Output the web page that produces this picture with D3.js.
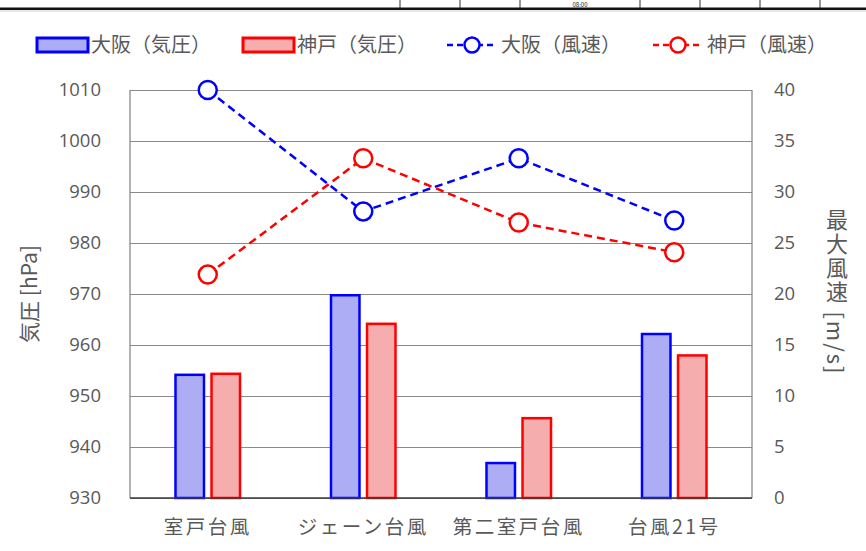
<!DOCTYPE html>
<html>
<head>
<meta charset="utf-8">
<script src="https://cdn.jsdelivr.net/npm/d3@7"></script>
<style>
  html, body { margin: 0; padding: 0; background: #fff; }
  svg { display: block; font-family: "Noto Sans CJK JP", "Noto Sans", sans-serif; }
</style>
</head>
<body>
<svg id="chart" width="866" height="551"></svg>
<script>
// Typhoon comparison: minimum pressure (bars) and maximum wind speed (lines)
const categories = ["室戸台風", "ジェーン台風", "第二室戸台風", "台風21号"];
const osakaPressure = [954.4, 970.0, 937.1, 962.4];
const kobePressure  = [954.6, 964.4, 945.9, 958.2];
const osakaWind = [40.0, 28.1, 33.3, 27.2];
const kobeWind  = [21.9, 33.3, 27.0, 24.1];
const pressureTicks = [930, 940, 950, 960, 970, 980, 990, 1000, 1010];
const windTicks = [0, 5, 10, 15, 20, 25, 30, 35, 40];
const legendLabels = ["大阪（気圧）", "神戸（気圧）", "大阪（風速）", "神戸（風速）"];
const leftTitle = "気圧 [hPa]";
const rightTitle = "最大風速 [m/s]";
const headerTimes = ["08:00"];

const BLUE = "#0000ff", RED = "#ff0000";
const BLUE_FILL = "#adadf5", RED_FILL = "#f6adad";
const TEXT = "#595959";

const svg = d3.select("#chart");
const plot = { left: 130, right: 752, top: 90, bottom: 498 };

// header strip along the top edge
const header = svg.append("g");
[400, 460, 520, 640, 700, 760, 820].forEach(x =>
  header.append("line").attr("x1", x).attr("x2", x).attr("y1", 0).attr("y2", 8)
    .attr("stroke", "#333").attr("stroke-width", 1));
header.selectAll("text.hdr").data(headerTimes).join("text")
  .attr("class", "hdr")
  .attr("x", 580).attr("y", 7).attr("text-anchor", "middle")
  .attr("font-size", 6).attr("fill", "#222").text(d => d);
header.append("rect").attr("x", 0).attr("y", 7.5).attr("width", 866).attr("height", 2.5).attr("fill", "#111");
header.append("rect").attr("x", 0).attr("y", 10).attr("width", 866).attr("height", 2).attr("fill", "#e8e8e8");

// scales
const x0 = d3.scaleBand().domain(categories).range([plot.left, plot.right]).paddingInner(0).paddingOuter(0);
const yP = d3.scaleLinear().domain([930, 1010]).range([plot.bottom, plot.top]);
const yW = d3.scaleLinear().domain([0, 40]).range([plot.bottom, plot.top]);
const groupWidth = 67;
const x1 = d3.scaleBand().domain(["osaka", "kobe"]).range([-groupWidth / 2, groupWidth / 2]).paddingInner(0.14);

// gridlines
svg.append("g")
  .attr("transform", `translate(${plot.left},0)`)
  .call(d3.axisLeft(yP).tickValues(pressureTicks).tickSize(-(plot.right - plot.left)).tickFormat(""))
  .call(g => g.select(".domain").remove())
  .call(g => g.selectAll(".tick line").attr("stroke", "#8a8a8a").attr("stroke-width", 1));

// side frame lines
svg.append("line").attr("x1", plot.left).attr("x2", plot.left).attr("y1", plot.top).attr("y2", plot.bottom)
  .attr("stroke", "#7f7f7f").attr("stroke-width", 1.2);
svg.append("line").attr("x1", plot.right).attr("x2", plot.right).attr("y1", plot.top).attr("y2", plot.bottom)
  .attr("stroke", "#7f7f7f").attr("stroke-width", 1.2);

// bars
const barData = categories.map((c, i) => [
  { cat: c, key: "osaka", v: osakaPressure[i] },
  { cat: c, key: "kobe", v: kobePressure[i] }
]).flat();
svg.append("g").selectAll("rect").data(barData).join("rect")
  .attr("x", d => x0(d.cat) + x0.bandwidth() / 2 + x1(d.key) + 1.25)
  .attr("width", x1.bandwidth() - 2.5)
  .attr("y", d => yP(d.v) + 1.25)
  .attr("height", d => yP(930) - yP(d.v) - 1.25)
  .attr("fill", d => d.key === "osaka" ? BLUE_FILL : RED_FILL)
  .attr("stroke", d => d.key === "osaka" ? BLUE : RED)
  .attr("stroke-width", 2.5);

// bottom axis line
svg.append("line").attr("x1", plot.left).attr("x2", plot.right).attr("y1", plot.bottom).attr("y2", plot.bottom)
  .attr("stroke", "#3a3a3a").attr("stroke-width", 1.5);

// wind lines
const cx = c => x0(c) + x0.bandwidth() / 2;
const line = d3.line().x(d => cx(d.cat)).y(d => yW(d.v));
[[osakaWind, BLUE], [kobeWind, RED]].forEach(([vals, col]) => {
  const pts = categories.map((c, i) => ({ cat: c, v: vals[i] }));
  svg.append("path").datum(pts).attr("d", line)
    .attr("fill", "none").attr("stroke", col).attr("stroke-width", 2.5)
    .attr("stroke-dasharray", "8,5");
  svg.append("g").selectAll("circle").data(pts).join("circle")
    .attr("cx", d => cx(d.cat)).attr("cy", d => yW(d.v)).attr("r", 9)
    .attr("fill", "#fff").attr("stroke", col).attr("stroke-width", 2.5);
});

// left axis labels
svg.append("g")
  .attr("transform", `translate(${plot.left - 29},0)`)
  .call(d3.axisLeft(yP).tickValues(pressureTicks).tickSize(0).tickFormat(d3.format("d")))
  .call(g => g.select(".domain").remove())
  .call(g => g.selectAll("text").attr("fill", TEXT).attr("font-size", 18.5)
    .attr("font-family", "'Open Sans', 'Noto Sans', sans-serif").attr("x", 0));

// right axis labels
svg.append("g")
  .attr("transform", `translate(${plot.right + 22},0)`)
  .call(d3.axisRight(yW).tickValues(windTicks).tickSize(0).tickFormat(d3.format("d")))
  .call(g => g.select(".domain").remove())
  .call(g => g.selectAll("text").attr("fill", TEXT).attr("font-size", 18.5)
    .attr("font-family", "'Open Sans', 'Noto Sans', sans-serif").attr("x", 0));

// category labels
svg.append("g").selectAll("text").data(categories).join("text")
  .attr("x", d => cx(d)).attr("y", 534)
  .attr("text-anchor", "middle").attr("font-size", 19.5).attr("letter-spacing", 2.5)
  .attr("fill", TEXT).text(d => d);

// axis titles
svg.append("text")
  .attr("transform", `translate(37,${(plot.top + plot.bottom) / 2}) rotate(-90)`)
  .attr("text-anchor", "middle").attr("font-size", 21).attr("fill", TEXT).text(leftTitle);
svg.append("text")
  .attr("x", 837).attr("y", 292)
  .style("writing-mode", "vertical-rl")
  .attr("letter-spacing", 2)
  .attr("text-anchor", "middle").attr("font-size", 22).attr("fill", TEXT).text(rightTitle);

// legend
const legend = svg.append("g");
const legendItems = [
  { type: "bar", x: 37, fill: BLUE_FILL, stroke: BLUE, label: legendLabels[0] },
  { type: "bar", x: 243, fill: RED_FILL, stroke: RED, label: legendLabels[1] },
  { type: "line", x: 447, stroke: BLUE, label: legendLabels[2] },
  { type: "line", x: 653, stroke: RED, label: legendLabels[3] }
];
legendItems.forEach(it => {
  if (it.type === "bar") {
    legend.append("rect").attr("x", it.x).attr("y", 38).attr("width", 51).attr("height", 14)
      .attr("fill", it.fill).attr("stroke", it.stroke).attr("stroke-width", 3);
  } else {
    legend.append("line").attr("x1", it.x).attr("x2", it.x + 50).attr("y1", 45).attr("y2", 45)
      .attr("stroke", it.stroke).attr("stroke-width", 2.5).attr("stroke-dasharray", "6,4");
    legend.append("circle").attr("cx", it.x + 25).attr("cy", 45).attr("r", 7.5)
      .attr("fill", "#fff").attr("stroke", it.stroke).attr("stroke-width", 2.5);
  }
  legend.append("text").attr("x", it.x + 54).attr("y", 52)
    .attr("font-size", 20).attr("fill", TEXT).text(it.label);
});
</script>
</body>
</html>
